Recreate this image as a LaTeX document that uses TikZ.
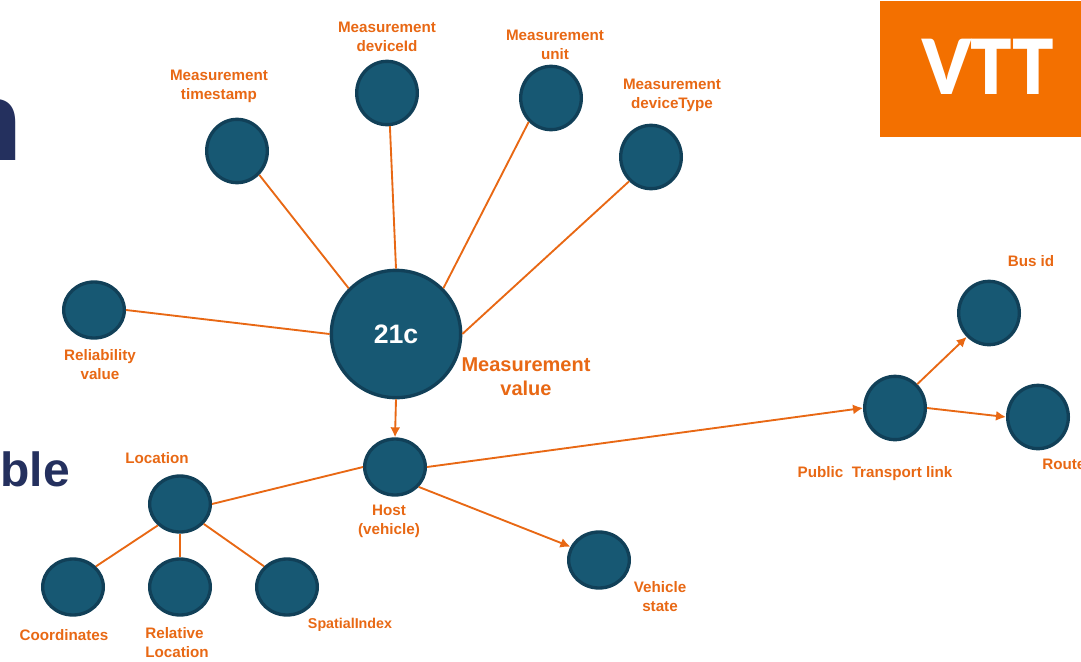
\documentclass[tikz,border=0pt]{standalone}
\usepackage{xcolor}
\usepackage{fontspec}
\setmainfont{Liberation Sans}
\usepackage{tikz}
\usetikzlibrary{shapes.geometric, arrows.meta}
\definecolor{vttorange}{RGB}{243, 112, 0}
\definecolor{vttline}{RGB}{232, 104, 20}
\definecolor{vttblue}{RGB}{23, 88, 115}
\definecolor{vttedge}{RGB}{17, 64, 88}
\definecolor{vttnavy}{RGB}{36, 48, 94}
\tikzset{
  dotnode/.style={ellipse, draw=vttedge, fill=vttblue, line width=2.5pt, inner sep=0pt, minimum width=45.5pt, minimum height=42pt},
  tallnode/.style={dotnode, minimum height=47.5pt},
  hubnode/.style={dotnode, minimum width=97pt, minimum height=95.5pt, text=white, font=\fontsize{20}{24}\selectfont\bfseries},
  labeltext/.style={text=vttline, inner sep=0pt, align=center, font=\fontsize{11.4}{14.2}\selectfont\bfseries},
  biglabel/.style={labeltext, font=\fontsize{15}{18}\selectfont\bfseries},
  titletext/.style={text=vttnavy, inner sep=0pt, anchor=base east},
  link/.style={draw=vttline, line width=1.4pt},
  arrowlink/.style={link, -{Latex[length=7.5pt,width=7.5pt]}}
}
\begin{document}
\begin{tikzpicture}[x=0.75pt, y=-0.75pt]
\useasboundingbox (0,0) rectangle (1081,661);
\clip (0,0) rectangle (1081,661);

% Cut-off title letters
\node[titletext, font=\fontsize{85}{85}\selectfont\bfseries] (titletop) at (23,160) {n};
\node[titletext, font=\fontsize{36}{36}\selectfont\bfseries] (titlelow) at (70,486) {ble};

% Logo
\fill[vttorange] (880,1) rectangle (1081,137);
\node[inner sep=0pt, text=white] (logo) at (988,66.5) {\scalebox{0.9}[1]{\fontsize{57}{57}\fontspec{Lato Black}VTT}};

% Nodes
\node[hubnode] (value) at (396,334) {21c};
\node[tallnode] (stamp) at (237,151) {};
\node[tallnode] (device) at (387,93) {};
\node[tallnode] (unit) at (551,98) {};
\node[tallnode] (type) at (651,157) {};
\node[dotnode] (reliab) at (94,310) {};
\node[dotnode] (host) at (395,467) {};
\node[dotnode] (location) at (180,504) {};
\node[dotnode] (coords) at (73,587) {};
\node[dotnode] (relative) at (180,587) {};
\node[dotnode] (spatial) at (287,587) {};
\node[dotnode] (state) at (599,560) {};
\node[tallnode] (transport) at (895,408) {};
\node[tallnode] (bus) at (989,313) {};
\node[tallnode] (route) at (1038,417) {};

% Connectors
\draw[link] (stamp.-47) -- (value.136);
\draw[link] (device.-85) -- (value.90);
\draw[link] (unit.-133) -- (value.44);
\draw[link] (type.-132) -- (value.0);
\draw[link] (reliab.0) -- (value.180);
\draw[arrowlink] (value.-90) -- (host.90);
\draw[link] (host.180) -- (location.0);
\draw[link] (location.-136) -- (coords.42);
\draw[link] (location.-90) -- (relative.90);
\draw[link] (location.-40) -- (spatial.138);
\draw[arrowlink] (host.-40) -- (state.155);
\draw[arrowlink] (host.0) -- (transport.180);
\draw[arrowlink] (transport.47) -- (bus.-133);
\draw[arrowlink] (transport.0) -- (route.180);

% Labels
\node[labeltext] (stamplabel) at (219,86) {Measurement\\timestamp};
\node[labeltext] (devicelabel) at (387,36.5) {Measurement\\deviceId};
\node[labeltext] (unitlabel) at (555,44.5) {Measurement\\unit};
\node[labeltext] (typelabel) at (672,95) {Measurement\\deviceType};
\node[labeltext] (reliablabel) at (100,365) {Reliability\\value};
\node[biglabel] (valuelabel) at (526,377) {Measurement\\value};
\node[labeltext] (hostlabel) at (389,521) {Host\\(vehicle)};
\node[labeltext] (locationlabel) at (157,458) {Location};
\node[labeltext] (coordslabel) at (64,635) {Coordinates};
\node[labeltext, align=left] (relativelabel) at (177,643) {Relative\\Location};
\node[labeltext, font=\fontsize{10.7}{14}\selectfont\bfseries] (spatiallabel) at (350,625) {SpatialIndex};
\node[labeltext] (statelabel) at (660,597) {Vehicle\\state};
\node[labeltext] (transportlabel) at (875,474) {Public\ \ Transport link};
\node[labeltext] (buslabel) at (1031,261) {Bus id};
\node[labeltext, anchor=west] (routelabel) at (1042,464) {Route};
\end{tikzpicture}
\end{document}
